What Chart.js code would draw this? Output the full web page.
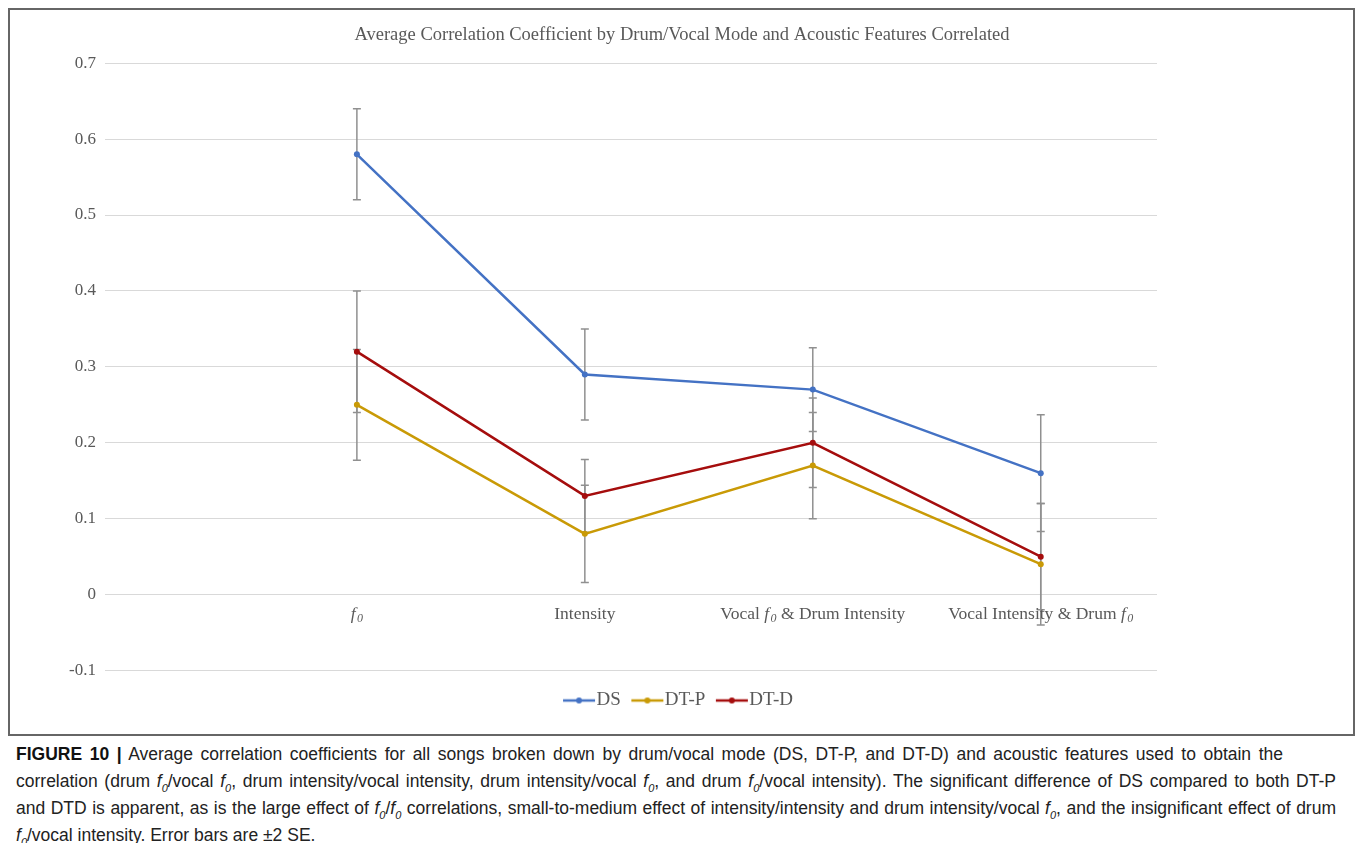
<!DOCTYPE html>
<html>
<head>
<meta charset="utf-8">
<script src="https://cdn.jsdelivr.net/npm/chart.js@4.4.0/dist/chart.umd.min.js"></script>
<style>
  html, body { margin: 0; padding: 0; background: #fff; overflow: hidden; }
  #marco { position: absolute; left: 8px; top: 8px; width: 1347px; height: 728px; border: 2px solid #666; box-sizing: border-box; }
  #grafico { position: absolute; left: 11px; top: 11px; width: 1342px; height: 709px; }
  #leyenda {
    position: absolute; left: 16px; top: 741px; font-family: "Liberation Sans", Arial, sans-serif;
    font-size: 17.5px; line-height: 27px; color: #222; white-space: nowrap;
  }
  #leyenda div { width: 1320px; text-align: justify; text-align-last: justify; height: 27px; }
  #leyenda div.corta { width: 1267px; }
  #leyenda div.final { text-align-last: left; }
  #leyenda b { color: #111; }
  sub { font-size: 11px; line-height: 0; }
</style>
</head>
<body>
<div id="marco"></div>
<div id="grafico"><canvas id="lineChart"></canvas></div>
<div id="leyenda">
<div class="corta"><b>FIGURE 10 |</b> Average correlation coefficients for all songs broken down by drum/vocal mode (DS, DT-P, and DT-D) and acoustic features used to obtain the</div>
<div>correlation (drum <i>f</i><sub><i>0</i></sub>/vocal <i>f</i><sub><i>0</i></sub>, drum intensity/vocal intensity, drum intensity/vocal <i>f</i><sub><i>0</i></sub>, and drum <i>f</i><sub><i>0</i></sub>/vocal intensity). The significant difference of DS compared to both DT-P</div>
<div>and DTD is apparent, as is the large effect of <i>f</i><sub><i>0</i></sub>/<i>f</i><sub><i>0</i></sub> correlations, small-to-medium effect of intensity/intensity and drum intensity/vocal <i>f</i><sub><i>0</i></sub>, and the insignificant effect of drum</div>
<div class="final"><i>f</i><sub><i>0</i></sub>/vocal intensity. Error bars are ±2 SE.</div>
</div>
<script>
// Datos
const categorias = ['f0', 'Intensity', 'Vocal f0 & Drum Intensity', 'Vocal Intensity & Drum f0'];
const valoresDS = [0.58, 0.29, 0.27, 0.16];
const valoresDTP = [0.25, 0.08, 0.17, 0.04];
const valoresDTD = [0.32, 0.13, 0.20, 0.05];
// Barras de error (±2 SE)
const errorDS = [0.06, 0.06, 0.055, 0.077];
const errorDTP = [0.073, 0.064, 0.07, 0.08];
const errorDTD = [0.08, 0.048, 0.059, 0.07];
const ticksY = [-0.1, 0, 0.1, 0.2, 0.3, 0.4, 0.5, 0.6, 0.7];

const serif = '"Liberation Serif", "Times New Roman", serif';
const gris = '#595959';
const colores = ['#4472c4', '#c99a06', '#a50d0d'];

function puntos(valores) {
    return valores.map((v, i) => ({ x: i, y: v }));
}

// Icono de la leyenda: línea con punto
function icono(color) {
    const c = document.createElement('canvas');
    c.width = 34; c.height = 10;
    const g = c.getContext('2d');
    g.strokeStyle = color; g.lineWidth = 2.5;
    g.beginPath(); g.moveTo(1, 5); g.lineTo(33, 5); g.stroke();
    g.fillStyle = color;
    g.beginPath(); g.arc(17, 5, 3, 0, Math.PI * 2); g.fill();
    return c;
}
const iconos = colores.map(icono);

function serie(nombre, valores, errores, color) {
    return {
        label: nombre,
        data: puntos(valores),
        errores: errores,
        borderColor: color,
        backgroundColor: color,
        borderWidth: 2.5,
        pointRadius: 3,
        pointStyle: 'circle',
        pointBackgroundColor: color,
        pointBorderWidth: 0,
        tension: 0
    };
}

// Barras de error dibujadas debajo de las líneas
const barrasError = {
    id: 'barrasError',
    beforeDatasetsDraw(chart) {
        const { ctx, scales: { x, y } } = chart;
        ctx.save();
        ctx.strokeStyle = '#909090';
        ctx.lineWidth = 1.5;
        chart.data.datasets.forEach(ds => {
            ds.errores.forEach((e, i) => {
                const px = x.getPixelForValue(i);
                const v = ds.data[i].y;
                const arriba = y.getPixelForValue(v + e);
                const abajo = y.getPixelForValue(v - e);
                ctx.beginPath();
                ctx.moveTo(px, arriba); ctx.lineTo(px, abajo);
                ctx.moveTo(px - 4, arriba); ctx.lineTo(px + 4, arriba);
                ctx.moveTo(px - 4, abajo); ctx.lineTo(px + 4, abajo);
                ctx.stroke();
            });
        });
        ctx.restore();
    }
};

// Etiquetas de categoría junto a la línea del cero, con f0 en cursiva
const etiquetasX = {
    id: 'etiquetasX',
    afterDraw(chart) {
        const { ctx, scales: { x, y } } = chart;
        const yy = y.getPixelForValue(0) + 20;
        ctx.save();
        ctx.fillStyle = gris;
        ctx.textBaseline = 'middle';
        categorias.forEach((texto, i) => {
            const piezas = [];
            texto.split(/(f0)/).filter(Boolean).forEach(p => {
                if (p === 'f0') {
                    piezas.push({ t: 'f', font: 'italic 17.5px ' + serif, dy: 0, extra: 1.5 });
                    piezas.push({ t: '0', font: 'italic 12px ' + serif, dy: 4, extra: 0 });
                } else {
                    piezas.push({ t: p, font: '17.5px ' + serif, dy: 0, extra: 0 });
                }
            });
            let ancho = 0;
            piezas.forEach(p => { ctx.font = p.font; p.w = ctx.measureText(p.t).width + p.extra; ancho += p.w; });
            let xx = x.getPixelForValue(i) - ancho / 2;
            piezas.forEach(p => { ctx.font = p.font; ctx.fillText(p.t, xx, yy + p.dy); xx += p.w; });
        });
        ctx.restore();
    }
};

new Chart(document.getElementById('lineChart'), {
    type: 'line',
    data: {
        datasets: [
            serie('DS', valoresDS, errorDS, colores[0]),
            serie('DT-P', valoresDTP, errorDTP, colores[1]),
            serie('DT-D', valoresDTD, errorDTD, colores[2])
        ]
    },
    options: {
        responsive: true,
        maintainAspectRatio: false,
        animation: false,
        layout: { padding: 0 },
        plugins: {
            title: {
                display: true,
                text: 'Average Correlation Coefficient by Drum/Vocal Mode and Acoustic Features Correlated',
                color: gris,
                font: { family: serif, size: 18.5, weight: 'normal' },
                padding: { top: 13, bottom: 17 }
            },
            legend: {
                position: 'bottom',
                labels: {
                    usePointStyle: true,
                    pointStyleWidth: 16,
                    padding: 18.5,
                    color: gris,
                    font: { family: serif, size: 19 },
                    generateLabels: chart => Chart.defaults.plugins.legend.labels.generateLabels(chart)
                        .map((l, i) => Object.assign(l, { pointStyle: iconos[i] }))
                }
            },
            tooltip: { enabled: false }
        },
        scales: {
            x: {
                type: 'linear',
                display: true,
                min: -1.105,
                max: 3.51,
                afterFit: s => { s.height = 2; },
                ticks: { display: false },
                grid: { display: false, drawTicks: false },
                border: { display: false }
            },
            y: {
                min: -0.1,
                max: 0.7,
                afterBuildTicks: s => { s.ticks = ticksY.map(v => ({ value: v })); },
                afterFit: s => { s.width = 94; },
                ticks: {
                    color: gris,
                    padding: 9,
                    font: { family: serif, size: 17 },
                    callback: v => String(Math.round(v * 10) / 10)
                },
                grid: { color: '#d9d9d9', lineWidth: 1, drawTicks: false },
                border: { display: false }
            },
            derecha: {
                type: 'linear',
                position: 'right',
                display: true,
                afterFit: s => { s.width = 196; },
                ticks: { display: false },
                grid: { display: false, drawTicks: false },
                border: { display: false }
            }
        }
    },
    plugins: [barrasError, etiquetasX]
});
</script>
</body>
</html>
